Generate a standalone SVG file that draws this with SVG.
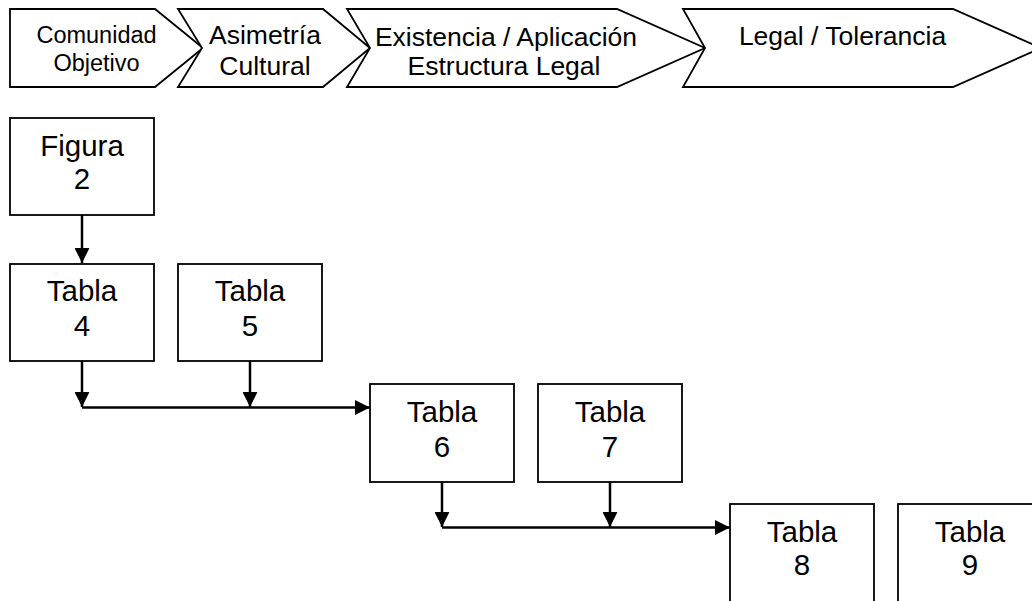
<svg xmlns="http://www.w3.org/2000/svg" width="1032" height="601" viewBox="0 0 1032 601">
<style>
.shape{fill:#fff;stroke:#000;stroke-width:1.8}
.t{font-family:"Liberation Sans",Arial,sans-serif;fill:#000;text-anchor:middle}
.chev{font-size:26.5px}
.small{font-size:23.5px}
.box{font-size:29.5px}
.conn{stroke:#000;stroke-width:2.5;fill:none}
</style>
<defs>
<marker id="arr" viewBox="0 0 10 10" markerUnits="userSpaceOnUse" markerWidth="15" markerHeight="15" refX="10" refY="5" orient="auto">
<path d="M0,0 L10,5 L0,10 Z" fill="#000"/>
</marker>
<clipPath id="clipLegal"><rect x="340" y="0" width="370" height="81"/></clipPath>
</defs>
<rect width="1032" height="601" fill="#fff"/>
<g id="chevron-comunidad">
<path class="shape" d="M10,9 H155 L203,48 L155,87 H10 Z"/>
<text class="t small" x="96.5" y="43">Comunidad</text>
<text class="t small" x="96.5" y="71">Objetivo</text>
</g>
<g id="chevron-asimetria">
<path class="shape" d="M178,9 H323 L370,48 L323,87 H178 L202,48 Z"/>
<text class="t chev" x="265" y="44">Asimetría</text>
<text class="t chev" x="265" y="75">Cultural</text>
</g>
<g id="chevron-existencia">
<path class="shape" d="M347,9 H617 L705,48 L617,87 H347 L370,48 Z"/>
<text class="t chev" x="506" y="46">Existencia / Aplicación</text>
<text class="t chev" x="504" y="75" clip-path="url(#clipLegal)">Estructura Legal</text>
</g>
<g id="chevron-legal">
<path class="shape" d="M683,9 H953 L1041,48 L953,87 H683 L705,48 Z"/>
<text class="t chev" x="842.5" y="45">Legal / Tolerancia</text>
</g>
<g id="figura2">
<rect class="shape" x="10" y="118" width="144" height="97"/>
<text class="t box" x="82" y="156">Figura</text>
<text class="t box" x="82" y="189">2</text>
</g>
<g id="tabla4">
<rect class="shape" x="10" y="264" width="144" height="97"/>
<text class="t box" x="82" y="301">Tabla</text>
<text class="t box" x="82" y="336">4</text>
</g>
<g id="tabla5">
<rect class="shape" x="178" y="264" width="144" height="97"/>
<text class="t box" x="250" y="301">Tabla</text>
<text class="t box" x="250" y="336">5</text>
</g>
<g id="tabla6">
<rect class="shape" x="370" y="384" width="144" height="98"/>
<text class="t box" x="442" y="422">Tabla</text>
<text class="t box" x="442" y="457">6</text>
</g>
<g id="tabla7">
<rect class="shape" x="538" y="384" width="144" height="98"/>
<text class="t box" x="610" y="422">Tabla</text>
<text class="t box" x="610" y="457">7</text>
</g>
<g id="tabla8">
<rect class="shape" x="730" y="504" width="144" height="110"/>
<text class="t box" x="802" y="542">Tabla</text>
<text class="t box" x="802" y="575">8</text>
</g>
<g id="tabla9">
<rect class="shape" x="898" y="504" width="144" height="110"/>
<text class="t box" x="970" y="542">Tabla</text>
<text class="t box" x="970" y="575">9</text>
</g>
<g id="connectors">
<line class="conn" x1="82" y1="215" x2="82" y2="263" marker-end="url(#arr)"/>
<line class="conn" x1="82" y1="361" x2="82" y2="407" marker-end="url(#arr)"/>
<line class="conn" x1="250" y1="361" x2="250" y2="407" marker-end="url(#arr)"/>
<line class="conn" x1="82" y1="407.5" x2="370" y2="407.5" marker-end="url(#arr)"/>
<line class="conn" x1="442" y1="482" x2="442" y2="527" marker-end="url(#arr)"/>
<line class="conn" x1="610" y1="482" x2="610" y2="527" marker-end="url(#arr)"/>
<line class="conn" x1="442" y1="527.5" x2="730" y2="527.5" marker-end="url(#arr)"/>
</g>
</svg>
